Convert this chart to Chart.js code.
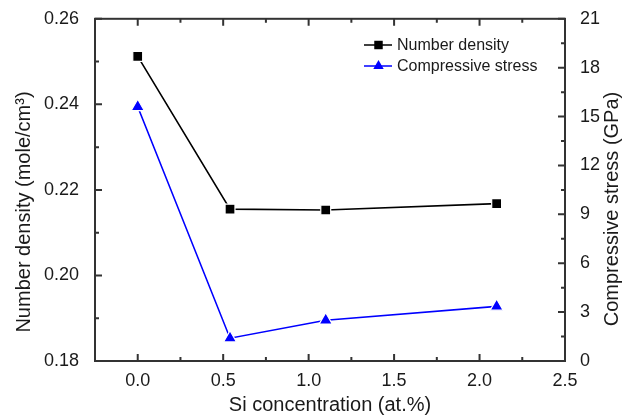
<!DOCTYPE html>
<html><head><meta charset="utf-8">
<script src="https://cdn.jsdelivr.net/npm/chart.js@4/dist/chart.umd.min.js"></script>
<style>html,body{margin:0;padding:0;background:#fff;}</style>
</head><body>
<canvas id="c" width="631" height="418"></canvas>
<script>
// ---- data ----
const siConcentration = [0.0, 0.54, 1.1, 2.1];
const numberDensity = [0.2512, 0.2155, 0.2153, 0.2168];
const compressiveStress = [15.6, 1.4, 2.5, 3.35];
const seriesNames = ['Number density', 'Compressive stress'];
const xTitle = 'Si concentration (at.%)';
const leftTitle = 'Number density (mole/cm³)';
const rightTitle = 'Compressive stress (GPa)';

const FONT = '"Liberation Sans", Arial, sans-serif';
const TXT = '#1a1a1a';
const AX = '#333333';

const pts = (ys) => siConcentration.map((x, i) => ({x: x, y: ys[i]}));

const framePlugin = {
  id: 'frame',
  afterDraw(chart) {
    const ctx = chart.ctx;
    const a = chart.chartArea;
    const sx = chart.scales.x, sy = chart.scales.y, sy1 = chart.scales.y1;
    ctx.save();
    ctx.strokeStyle = AX;
    ctx.lineWidth = 2;
    ctx.strokeRect(a.left, a.top, a.right - a.left, a.bottom - a.top);
    const MAJ = 7, MIN = 4;
    const mids = (ticks) => {
      const out = [];
      for (let i = 0; i < ticks.length - 1; i++) out.push((ticks[i].value + ticks[i + 1].value) / 2);
      return out;
    };
    ctx.beginPath();
    sx.ticks.forEach(t => { const p = sx.getPixelForValue(t.value);
      ctx.moveTo(p, a.bottom); ctx.lineTo(p, a.bottom - MAJ);
      ctx.moveTo(p, a.top); ctx.lineTo(p, a.top + MAJ); });
    mids(sx.ticks).forEach(v => { const p = sx.getPixelForValue(v);
      ctx.moveTo(p, a.bottom); ctx.lineTo(p, a.bottom - MIN);
      ctx.moveTo(p, a.top); ctx.lineTo(p, a.top + MIN); });
    sy.ticks.forEach(t => { const p = sy.getPixelForValue(t.value);
      ctx.moveTo(a.left, p); ctx.lineTo(a.left + MAJ, p); });
    mids(sy.ticks).forEach(v => { const p = sy.getPixelForValue(v);
      ctx.moveTo(a.left, p); ctx.lineTo(a.left + MIN, p); });
    sy1.ticks.forEach(t => { const p = sy1.getPixelForValue(t.value);
      ctx.moveTo(a.right, p); ctx.lineTo(a.right - MAJ, p); });
    mids(sy1.ticks).forEach(v => { const p = sy1.getPixelForValue(v);
      ctx.moveTo(a.right, p); ctx.lineTo(a.right - MIN, p); });
    ctx.stroke();

    // axis titles
    ctx.fillStyle = TXT;
    ctx.font = '20px ' + FONT;
    ctx.textAlign = 'center';
    ctx.textBaseline = 'middle';
    ctx.fillText(xTitle, (a.left + a.right) / 2, 405);
    ctx.save();
    ctx.translate(24, 212); ctx.rotate(-Math.PI / 2);
    ctx.fillText(leftTitle, 0, 0);
    ctx.restore();
    ctx.save();
    ctx.translate(612, 209); ctx.rotate(-Math.PI / 2);
    ctx.fillText(rightTitle, 0, 0);
    ctx.restore();

    // legend
    ctx.font = '16px ' + FONT;
    ctx.textAlign = 'left';
    chart.data.datasets.forEach((ds, i) => {
      const y = 45 + i * 21;
      ctx.strokeStyle = ds.borderColor;
      ctx.lineWidth = 1.5;
      ctx.beginPath(); ctx.moveTo(364, y); ctx.lineTo(392, y); ctx.stroke();
      ctx.fillStyle = ds.backgroundColor;
      ctx.strokeStyle = ds.backgroundColor;
      Chart.helpers.drawPoint(ctx, {pointStyle: ds.pointStyle, radius: 6, rotation: 0, borderWidth: 0}, 378.5, y);
      ctx.fillStyle = TXT;
      ctx.fillText(ds.label, 397, y + 1);
    });
    ctx.restore();
  }
};

const tickFont = {family: FONT, size: 18};

new Chart(document.getElementById('c'), {
  type: 'line',
  data: {
    datasets: [
      {label: seriesNames[0], data: pts(numberDensity), yAxisID: 'y',
       borderColor: '#000000', backgroundColor: '#000000', borderWidth: 1.6,
       pointStyle: 'rect', pointRadius: 7, pointBorderColor: '#ffffff', pointBorderWidth: 1.2, tension: 0},
      {label: seriesNames[1], data: pts(compressiveStress), yAxisID: 'y1',
       borderColor: '#0000ff', backgroundColor: '#0000ff', borderWidth: 1.6,
       pointStyle: 'triangle', pointRadius: 7.5, pointBorderColor: '#ffffff', pointBorderWidth: 1.2, tension: 0}
    ]
  },
  options: {
    responsive: false, animation: false, devicePixelRatio: 1,
    layout: {padding: {top: 17, left: 0, right: 0, bottom: 0}},
    plugins: {legend: {display: false}, tooltip: {enabled: false}},
    scales: {
      x: {type: 'linear', position: 'bottom', min: -0.25, max: 2.5,
          afterFit(s) { s.height = 57; },
          grid: {display: false}, border: {display: false},
          ticks: {stepSize: 0.5, includeBounds: false, padding: 1, font: tickFont, color: TXT,
                  maxRotation: 0, autoSkip: false, callback: v => Number(v).toFixed(1)}},
      y: {type: 'linear', position: 'left', min: 0.18, max: 0.26,
          afterFit(s) { s.width = 95; },
          grid: {display: false}, border: {display: false},
          ticks: {stepSize: 0.02, padding: 8, font: tickFont, color: TXT, callback: v => Number(v).toFixed(2)}},
      y1: {type: 'linear', position: 'right', min: 0, max: 21,
          afterFit(s) { s.width = 66; },
          grid: {display: false}, border: {display: false},
          ticks: {stepSize: 3, padding: 7, font: tickFont, color: TXT, callback: v => String(Math.round(v))}}
    }
  },
  plugins: [framePlugin]
});
</script>
</body></html>
